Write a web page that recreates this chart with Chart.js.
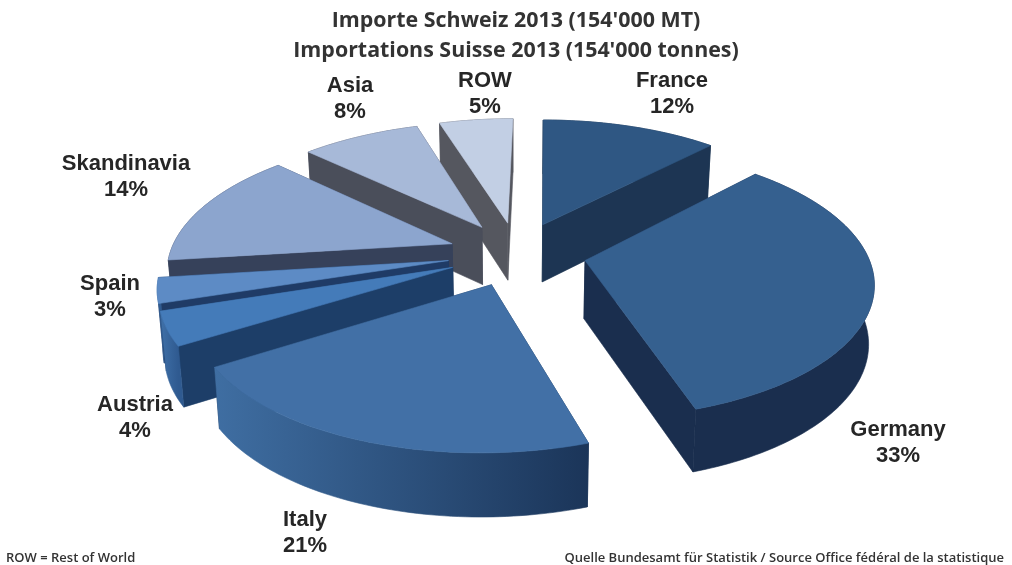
<!DOCTYPE html>
<html><head><meta charset="utf-8">
<style>html,body{margin:0;padding:0;background:#fff}canvas{display:block}</style>
<script src="https://cdn.jsdelivr.net/npm/chart.js@4/dist/chart.umd.min.js"></script>
</head><body>
<canvas id="c" width="1012" height="565"></canvas>
<script>
const categories = ["France","Germany","Italy","Austria","Spain","Skandinavia","Asia","ROW"];
const shares = [12,33,21,4,3,14,8,5];
const titleLines = ["Importe Schweiz 2013 (154'000 MT)","Importations Suisse 2013 (154'000 tonnes)"];
const footLeft = "ROW = Rest of World";
const footRight = "Quelle Bundesamt für Statistik / Source Office fédéral de la statistique";
const topColors = ["#2F5783","#35608F","#4270A6","#447BB9","#5D8BC5","#8CA5CE","#A7B9D8","#C2CFE4"];
const cutColors = ["#1D3553","#1A2E4E","#1B3559","#1D3E68","#1F3B66","#36415A","#4A4E5A","#55575F"];
const wallLeft  = ["#1D3553","#1A2E4E","#3F6EA2","#3F70A8","#3F70A8","#36415A","#4A4E5A","#55575F"];
const wallRight = ["#1D3553","#1A2E4E","#1B3559","#2F5A90","#2F5A90","#36415A","#4A4E5A","#55575F"];
// Label centres on the page (layout, not data)
const labelCentres = [[672,94],[898,443],[305,533],[135,418],[110,297],[126,177],[350,99],[485,94]];

// View of the tilted, exploded pie
const view = {cx:517, cy:253.5, a:282, b:130, k:0.16, skew:-30, lean:0.016,
              explode:0.246, depth:58, depthGrow:25};

function project(u,v,z){
  const s = 1/(1 - view.k*v);
  const x = view.cx + view.a*u*s + view.skew*(s-1);
  return {x: z ? x - view.lean*(x-view.cx) : x,
          y: view.cy + view.b*v*s + (z ? view.depth + view.depthGrow*(s-1) : 0), v};
}
function poly(ctx,pts,fill){
  ctx.beginPath();
  pts.forEach((p,i)=> i ? ctx.lineTo(p.x,p.y) : ctx.moveTo(p.x,p.y));
  ctx.closePath();
  ctx.fillStyle = fill; ctx.fill();
  ctx.strokeStyle = fill; ctx.lineWidth = 0.6; ctx.stroke();
}
const pie3d = {
  id:'pie3d',
  beforeDatasetDraw(chart){
    const ctx = chart.ctx;
    const arcs = chart.getDatasetMeta(0).data;
    const slices = arcs.map((arc,i)=>{
      const mid = (arc.startAngle+arc.endAngle)/2;
      const ox = view.explode*Math.cos(mid), oy = view.explode*Math.sin(mid);
      const n = Math.max(4,Math.ceil((arc.endAngle-arc.startAngle)/0.02));
      const rim = [];
      for(let j=0;j<=n;j++){
        const t = arc.startAngle+(arc.endAngle-arc.startAngle)*j/n;
        rim.push([ox+Math.cos(t), oy+Math.sin(t)]);
      }
      return {i, mid, ox, oy, rim, depthKey:(view.explode+0.5)*Math.sin(mid)};
    }).sort((p,q)=>p.depthKey-q.depthKey);

    slices.forEach(s=>{
      const apexT = project(s.ox,s.oy,false), apexB = project(s.ox,s.oy,true);
      const rimT = s.rim.map(p=>project(p[0],p[1],false));
      const rimB = s.rim.map(p=>project(p[0],p[1],true));
      const xs = rimT.map(p=>p.x);
      const g = ctx.createLinearGradient(Math.min(...xs),0,Math.max(...xs),0);
      g.addColorStop(0,wallLeft[s.i]); g.addColorStop(1,wallRight[s.i]);
      const mean = a => a.reduce((t,p)=>t+p.v,0)/a.length;
      const faces = [
        {pts:[apexT,rimT[0],rimB[0],apexB], fill:cutColors[s.i]},
        {pts:[apexT,rimT[rimT.length-1],rimB[rimB.length-1],apexB], fill:cutColors[s.i]},
        {pts:rimT.concat(rimB.slice().reverse()), fill:g}
      ].sort((p,q)=>mean(p.pts)-mean(q.pts));
      faces.forEach(f=>poly(ctx,f.pts,f.fill));
      poly(ctx,[apexT].concat(rimT),topColors[s.i]);
    });
    return false;
  },
  afterDraw(chart){
    const ctx = chart.ctx;
    ctx.save();
    ctx.textAlign='center'; ctx.textBaseline='middle';
    ctx.fillStyle='#262626';
    ctx.font='bold 22px "Liberation Sans"';
    categories.forEach((name,i)=>{
      const [x,y]=labelCentres[i];
      ctx.fillText(name,x,y-13);
      ctx.fillText(shares[i]+'%',x,y+13);
    });
    ctx.fillStyle='#333';
    ctx.font='600 13px "Open Sans"';
    ctx.textAlign='left'; ctx.fillText(footLeft,6,558.5);
    ctx.textAlign='right'; ctx.fillText(footRight,1004,558.5);
    ctx.restore();
  }
};
new Chart(document.getElementById('c'),{
  type:'pie',
  data:{labels:categories,datasets:[{data:shares,backgroundColor:topColors,borderWidth:0}]},
  options:{
    responsive:false,animation:false,
    layout:{padding:{left:20,top:2}},
    plugins:{
      legend:{display:false},tooltip:{enabled:false},
      title:{display:true,text:titleLines,color:'#333',padding:{top:4,bottom:4},
        font:{family:'"Open Sans"',weight:'bold',size:21.4,lineHeight:1.4}}
    }
  },
  plugins:[pie3d]
});
</script>
</body></html>
